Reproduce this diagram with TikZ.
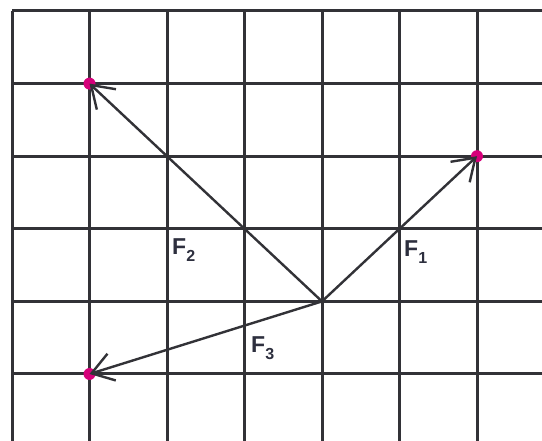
\documentclass[tikz,border=0pt]{standalone}
\usepackage{fontspec}
\setmainfont{Liberation Sans}
\usetikzlibrary{arrows.meta}
\definecolor{gridc}{RGB}{50,50,55}
\definecolor{dotc}{RGB}{214,0,122}
\definecolor{labc}{RGB}{45,47,62}
\tikzset{
  gridline/.style={draw=gridc, line width=3pt},
  vec/.style={draw=gridc, line width=2.4pt, -{Straight Barb[length=21pt,width=28pt,line width=2.4pt]}},
  tipdot/.style={circle, fill=dotc, minimum size=12pt, inner sep=0pt},
  flabel/.style={anchor=base west, inner sep=0pt, text=labc, font=\bfseries\fontsize{23}{23}\selectfont}
}
\newcommand{\fsub}[1]{\raisebox{-7pt}{\fontsize{16}{16}\selectfont #1}}
\begin{document}
\begin{tikzpicture}[x=1pt,y=-1pt]
\useasboundingbox (0,0) rectangle (542,441);
\fill[white] (0,0) rectangle (542,441);
% grid
\foreach \i in {0,...,6} {
  \draw[gridline] ({12+77.5*\i},11) -- ({12+77.5*\i},441);
}
\foreach \j in {0,...,5} {
  \draw[gridline] (12,{11+72.6*\j}) -- (542,{11+72.6*\j});
}
% points
\coordinate (O) at (322,301.4);
\node[tipdot] (A) at (477,156.2) {};
\node[tipdot] (B) at (89.5,83.6) {};
\node[tipdot] (C) at (89.5,374) {};
% vectors
\draw[vec] (O) -- (A.center);
\draw[vec] (O) -- (B.center);
\draw[vec] (O) -- (C.center);
% labels
\node[flabel] (l1) at (404,257) {F\fsub{1}};
\node[flabel] (l2) at (172,255) {F\fsub{2}};
\node[flabel] (l3) at (251,353) {F\fsub{3}};
\end{tikzpicture}
\end{document}
